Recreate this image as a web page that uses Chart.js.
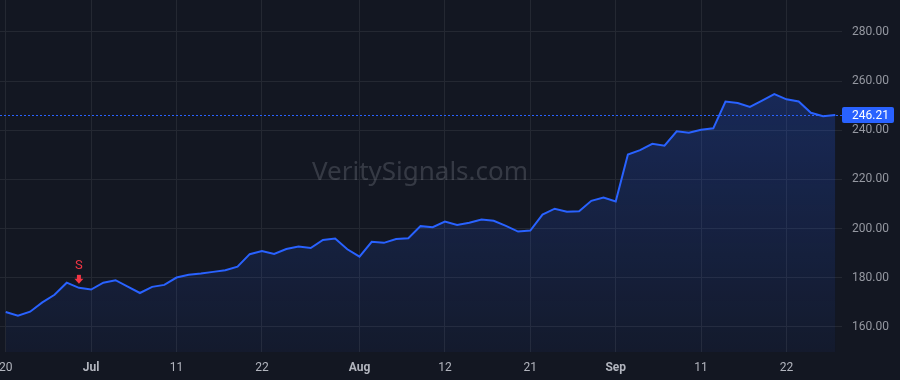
<!DOCTYPE html>
<html>
<head>
<meta charset="utf-8">
<script src="https://cdn.jsdelivr.net/npm/chart.js@4"></script>
<style>
  html, body { margin: 0; padding: 0; background: #131722; }
  #wrap { width: 900px; height: 380px; }
</style>
</head>
<body>
<div id="wrap"><canvas id="priceChart"></canvas></div>
<script>
// trading days (MM-DD, 2025)
const dates = [
  '06-20','06-23','06-24','06-25','06-26','06-27','06-30',
  '07-01','07-02','07-03','07-07','07-08','07-09','07-10','07-11','07-14','07-15','07-16','07-17','07-18',
  '07-21','07-22','07-23','07-24','07-25','07-28','07-29','07-30','07-31',
  '08-01','08-04','08-05','08-06','08-07','08-08','08-11','08-12','08-13','08-14','08-15',
  '08-18','08-19','08-20','08-21','08-22','08-25','08-26','08-27','08-28','08-29',
  '09-02','09-03','09-04','09-05','09-08','09-09','09-10','09-11','09-12',
  '09-15','09-16','09-17','09-18','09-19','09-22','09-23','09-24','09-25','09-26'
];
const closes = [
  166.1, 164.6, 166.2, 170.0, 173.1, 178.0, 175.9,
  175.2, 178.0, 179.0, 176.4, 173.8, 176.3, 177.1, 180.1, 181.2, 181.7, 182.4, 183.1, 184.5,
  189.6, 190.9, 189.7, 191.7, 192.7, 192.1, 195.4, 196.0, 191.6,
  188.6, 194.6, 194.2, 195.8, 196.1, 201.0, 200.6, 202.9, 201.5, 202.4, 203.7,
  203.2, 201.1, 198.8, 199.2, 205.7, 208.1, 206.9, 207.1, 211.3, 212.6,
  211.0, 230.1, 231.9, 234.5, 233.7, 239.6, 239.0, 240.2, 240.8,
  251.7, 251.1, 249.5, 252.1, 254.7, 252.6, 251.7, 247.1, 245.7, 246.21
];
const tickDates = ['06-20','07-01','07-11','07-22','08-01','08-12','08-21','09-02','09-11','09-22'];
const monthNames = ['Jan','Feb','Mar','Apr','May','Jun','Jul','Aug','Sep','Oct','Nov','Dec'];
const yTicks = [160, 180, 200, 220, 240, 260, 280];
const sellSignals = ['06-30'];

function tickLabel(d) {
  const [m, day] = d.split('-').map(Number);
  return day === 1 || (m === 9 && day === 2) ? monthNames[m - 1] : String(day);
}
const tickIdx = tickDates.map(d => dates.indexOf(d));
const points = closes.map((v, i) => ({ x: i, y: v }));

// chart.js pads the area for edge labels; the reference has none
function noPad(s) {
  s.paddingTop = 0; s.paddingBottom = 0; s.paddingLeft = 0; s.paddingRight = 0;
}

const extras = {
  id: 'extras',
  beforeDatasetsDraw(chart) {
    const { ctx } = chart;
    ctx.save();
    ctx.font = '26px "Noto Sans"';
    ctx.fillStyle = 'rgba(178,181,190,0.22)';
    ctx.textAlign = 'center';
    ctx.textBaseline = 'middle';
    ctx.fillText('VeritySignals.com', 420, 173);
    ctx.restore();
  },
  afterDatasetsDraw(chart) {
    const { ctx, chartArea: a, scales: { x, y } } = chart;
    const last = closes[closes.length - 1];
    const py = Math.round(y.getPixelForValue(last)) + 0.5;
    ctx.save();
    ctx.strokeStyle = '#2962ff';
    ctx.lineWidth = 1;
    ctx.setLineDash([2, 2]);
    ctx.beginPath();
    ctx.moveTo(a.left, py);
    ctx.lineTo(a.right, py);
    ctx.stroke();
    ctx.setLineDash([]);

    // sell markers
    ctx.fillStyle = '#f23645';
    sellSignals.forEach(d => {
      const i = dates.indexOf(d);
      const sx = x.getPixelForValue(i);
      const sy = y.getPixelForValue(closes[i]);
      const tip = sy - 4;
      ctx.fillRect(sx - 2, tip - 9, 4, 5);
      ctx.beginPath();
      ctx.moveTo(sx - 4.5, tip - 5);
      ctx.lineTo(sx + 4.5, tip - 5);
      ctx.lineTo(sx, tip);
      ctx.closePath();
      ctx.fill();
      ctx.font = '13px Roboto';
      ctx.textAlign = 'center';
      ctx.textBaseline = 'middle';
      ctx.fillText('S', sx, tip - 18);
    });
    ctx.restore();
  },
  afterDraw(chart) {
    const { ctx, chartArea: a, scales: { y } } = chart;
    const last = closes[closes.length - 1];
    const py = y.getPixelForValue(last);
    ctx.save();
    ctx.fillStyle = '#2962ff';
    ctx.beginPath();
    ctx.roundRect(a.right, py - 8, 52, 16, 2);
    ctx.fill();
    ctx.fillStyle = '#ffffff';
    ctx.font = '12px Roboto';
    ctx.textAlign = 'left';
    ctx.textBaseline = 'middle';
    ctx.fillText(last.toFixed(2), a.right + 10, py + 0.5);
    ctx.restore();
  }
};

const ctx = document.getElementById('priceChart').getContext('2d');
new Chart(ctx, {
  type: 'line',
  data: {
    datasets: [{
      data: points,
      borderColor: '#2962ff',
      borderWidth: 2,
      pointRadius: 0,
      tension: 0,
      fill: 'start',
      backgroundColor: (c) => {
        const a = c.chart.chartArea;
        if (!a) return 'rgba(41,98,255,0.15)';
        const g = c.chart.ctx.createLinearGradient(0, 80, 0, a.bottom);
        g.addColorStop(0, 'rgba(41,98,255,0.25)');
        g.addColorStop(1, 'rgba(41,98,255,0.05)');
        return g;
      }
    }]
  },
  options: {
    responsive: true,
    maintainAspectRatio: false,
    animation: false,
    layout: { padding: 0 },
    plugins: { legend: { display: false }, tooltip: { enabled: false } },
    scales: {
      x: {
        type: 'linear',
        min: -0.47,
        max: 68.55,
        afterBuildTicks: s => { s.ticks = tickIdx.map(v => ({ value: v })); },
        afterFit: s => { s.height = 28; noPad(s); },
        border: { display: false },
        grid: { color: '#242832', drawTicks: false },
        ticks: {
          autoSkip: false,
          maxRotation: 0,
          padding: 9,
          color: '#b2b5be',
          font: (c) => {
            const lbl = c.tick ? tickLabel(dates[c.tick.value]) : '';
            return { family: 'Roboto', size: 12, weight: isNaN(lbl) ? 'bold' : 'normal' };
          },
          callback: v => tickLabel(dates[v])
        }
      },
      y: {
        position: 'right',
        min: 149.8,
        max: 293,
        afterBuildTicks: s => { s.ticks = yTicks.map(v => ({ value: v })); },
        afterFit: s => { s.width = 58; noPad(s); },
        border: { display: false },
        grid: { color: '#242832', drawTicks: false },
        ticks: {
          padding: 10,
          color: '#9598a1',
          font: { family: 'Roboto', size: 12 },
          callback: v => v.toFixed(2)
        }
      }
    }
  },
  plugins: [extras]
});
</script>
</body>
</html>
